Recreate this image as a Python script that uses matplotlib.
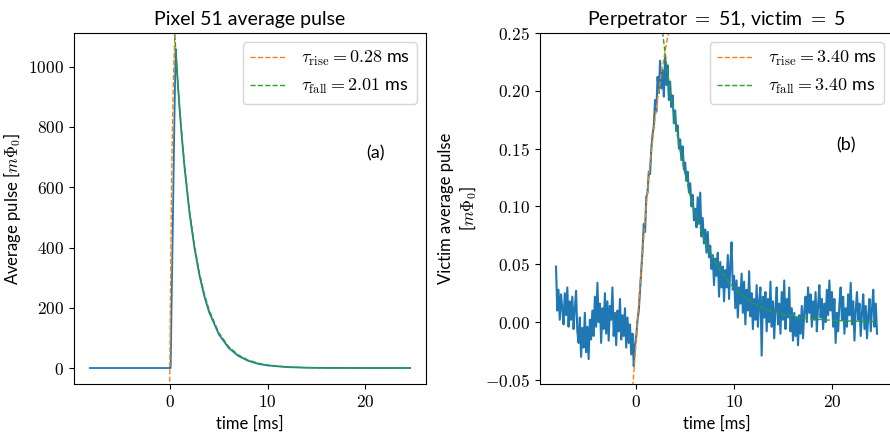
import numpy as np
import matplotlib
matplotlib.use("Agg")
import matplotlib.pyplot as plt
from matplotlib.ticker import FuncFormatter, MultipleLocator

plt.rcParams["mathtext.fontset"] = "cm"
plt.rcParams["font.family"] = ["Lato", "DejaVu Sans"]

# ---- panel (a): pixel 51 average pulse ----
pulse_t = [-8.192, 0.0, 0.07, 0.15, 0.3, 0.45, 0.58, 0.65, 0.8, 1.0, 1.25, 1.5,
           2.0, 2.5, 3.0, 3.5, 4.0, 5.0, 6.0, 7.0, 8.0, 9.0, 10.0, 12.0, 14.0,
           16.0, 20.0, 24.576]
pulse_v = [0, 0, 0, 180, 500, 820, 1059, 1025, 945, 852, 752, 662, 514, 400,
           310, 240, 186, 112, 67, 40, 24, 14, 8.5, 3, 1, 0.3, 0, 0]

rise_a_t = [-0.03, 0.05, 0.1, 0.2, 0.3, 0.4, 0.5, 0.56]
rise_a_v = [-70, 253, 427, 695, 882, 1014, 1105, 1150]
fall_a_t = [0.45, 0.58, 0.8, 1.0, 1.25, 1.5, 2.0, 2.5, 3.0, 3.5, 4.0, 5.0, 6.0,
            7.0, 8.0, 9.0, 10.0, 12.0, 14.0, 16.0, 20.0, 24.576]
fall_a_v = [1130, 1059, 949, 859, 759, 670, 522, 408, 318, 248, 193, 117, 71,
            43.4, 26.4, 16.1, 9.8, 3.6, 1.3, 0.5, 0.07, 0.01]
tau_a = (0.28, 2.01)

# ---- panel (b): perpetrator 51, victim 5 ----
victim_t0 = -8.192
victim_dt = 0.128
victim_v = [
    0.048, 0.010, 0.028, 0.002, 0.024, 0.012, -0.002, 0.025, 0.006, 0.030,
    -0.004, 0.018, 0.002, 0.022, -0.006, 0.012, 0.027, -0.008, -0.018, 0.004,
    -0.030, -0.005, -0.022, 0.008, -0.026, -0.004, -0.032, 0.002, -0.015, 0.010,
    -0.012, 0.022, -0.004, 0.034, 0.000, 0.016, -0.018, 0.012, -0.006, 0.025,
    -0.010, 0.018, -0.016, 0.014, 0.002, 0.030, -0.012, 0.008, -0.020, 0.010,
    -0.008, 0.020, -0.015, 0.006, -0.012, 0.012, -0.022, 0.004, -0.018, -0.002,
    -0.028, -0.010, -0.038, -0.020,
    -0.012, 0.002, 0.010, 0.028, 0.045, 0.062, 0.085, 0.078, 0.108, 0.112,
    0.130, 0.128, 0.150, 0.162, 0.170, 0.192, 0.182, 0.212, 0.198, 0.226,
    0.202, 0.218, 0.195, 0.230,
    0.205, 0.222, 0.192, 0.208, 0.186, 0.196, 0.172, 0.183, 0.165, 0.170,
    0.150, 0.158, 0.140, 0.152, 0.132, 0.138, 0.122, 0.130, 0.112, 0.120,
    0.100, 0.110, 0.088, 0.098, 0.082, 0.108, 0.085, 0.112, 0.074, 0.090,
    0.068, 0.080, 0.060, 0.078, 0.056, 0.066, 0.046, 0.058, 0.032, 0.055,
    0.040, 0.060, 0.022, 0.052, 0.030, 0.048, 0.018, 0.045, 0.030, 0.058,
    0.020, 0.050, 0.069, 0.028, 0.040, 0.012, 0.036, 0.004, 0.030, 0.016,
    0.042, 0.008, 0.035, -0.002, 0.028, 0.010, 0.044, 0.005, 0.025, -0.006,
    0.020, 0.002, 0.032, -0.004, 0.018, 0.030, -0.029, 0.022, 0.004, 0.026,
    -0.008, 0.020, 0.000, 0.035, -0.004, 0.018, -0.014, 0.012, 0.030, -0.002,
    0.016, -0.010, 0.026, 0.002, 0.036, -0.006, 0.020, 0.004, 0.030, -0.008,
    0.012, -0.016, 0.008, -0.012, 0.004, -0.020, 0.006, -0.010, 0.014, -0.014,
    0.010, 0.022, 0.000, 0.030, 0.008, 0.024, -0.004, 0.018, 0.002, 0.026,
    -0.008, 0.014, 0.032, 0.004, 0.020, -0.006, 0.016, 0.000, 0.028, 0.006,
    0.036, 0.010, 0.026, -0.004, 0.020, -0.018, 0.008, -0.008, 0.016, 0.030,
    0.002, 0.022, -0.010, 0.012, -0.004, 0.024, 0.006, 0.034, -0.002, 0.018,
    -0.016, 0.010, 0.026, 0.002, 0.016, -0.012, 0.008, 0.024, -0.006, 0.014,
    -0.014, 0.006, 0.020, -0.008, 0.012, 0.028, -0.004, 0.016, -0.010,
]
victim_t = victim_t0 + victim_dt * np.arange(len(victim_v))

rise_b_t = [-0.36, 0.0, 0.5, 1.0, 1.5, 2.0, 2.5, 3.0, 3.5]
rise_b_v = [-0.056, -0.015, 0.045, 0.100, 0.145, 0.182, 0.212, 0.237, 0.260]
fall_b_t = [2.6, 2.8, 3.0, 3.25, 3.5, 4.0, 4.5, 5.0, 5.5, 6.0, 7.0, 8.0, 9.0,
            10.0, 11.0, 12.0, 13.0, 14.0, 15.0, 16.0, 18.0, 20.0, 22.0, 24.576]
fall_b_v = [0.2574, 0.2428, 0.2289, 0.2127, 0.1976, 0.1706, 0.1472, 0.1271,
            0.1097, 0.0947, 0.0706, 0.0526, 0.0392, 0.0292, 0.0218, 0.0162,
            0.0121, 0.0090, 0.0067, 0.0050, 0.0028, 0.0015, 0.0009, 0.0004]
tau_b = (3.40, 3.40)


def math_ticks(fmt):
    return FuncFormatter(lambda v, pos: "$" + format(v, fmt) + "$")


fig = plt.figure(figsize=(8.9, 4.33), dpi=100)
ax1 = fig.add_axes([0.0831, 0.1132, 0.3955, 0.8106])
ax2 = fig.add_axes([0.6067, 0.1132, 0.3966, 0.8106])

# (a)
ax1.plot(pulse_t, pulse_v, color="C0", lw=1.3)
ax1.plot(rise_a_t, rise_a_v, "--", color="C1", lw=1,
         label=r"$\tau_\mathrm{rise} = %.2f$ ms" % tau_a[0])
ax1.plot(fall_a_t, fall_a_v, "--", color="C2", lw=1,
         label=r"$\tau_\mathrm{fall} = %.2f$ ms" % tau_a[1])
ax1.set_xlim(-9.83, 26.2)
ax1.set_ylim(-53, 1112)
ax1.yaxis.set_major_locator(MultipleLocator(200))
ax1.xaxis.set_major_locator(MultipleLocator(10))
ax1.xaxis.set_major_formatter(math_ticks("g"))
ax1.yaxis.set_major_formatter(math_ticks("g"))
ax1.set_title("Pixel 51 average pulse", fontsize=14)
ax1.set_xlabel("time [ms]", fontsize=12)
ax1.set_ylabel(r"Average pulse [$m\Phi_0$]", fontsize=12)
ax1.legend(loc="upper right", fontsize=13)
ax1.text(0.858, 0.658, "(a)", transform=ax1.transAxes, fontsize=13,
         ha="center", va="center")

# (b)
ax2.plot(victim_t, victim_v, color="C0", lw=1.5)
ax2.plot(rise_b_t, rise_b_v, "--", color="C1", lw=1,
         label=r"$\tau_\mathrm{rise} = %.2f$ ms" % tau_b[0])
ax2.plot(fall_b_t, fall_b_v, "--", color="C2", lw=1,
         label=r"$\tau_\mathrm{fall} = %.2f$ ms" % tau_b[1])
ax2.set_xlim(-9.83, 26.2)
ax2.set_ylim(-0.0535, 0.25)
ax2.yaxis.set_major_locator(MultipleLocator(0.05))
ax2.xaxis.set_major_locator(MultipleLocator(10))
ax2.xaxis.set_major_formatter(math_ticks("g"))
ax2.yaxis.set_major_formatter(math_ticks(".2f"))
ax2.set_title(r"Perpetrator $=$ 51, victim $=$ 5", fontsize=14)
ax2.set_xlabel("time [ms]", fontsize=12)
ax2.set_ylabel("Victim average pulse\n" + r"[$m\Phi_0$]", fontsize=12)
ax2.legend(loc="upper right", fontsize=13)
ax2.text(0.866, 0.68, "(b)", transform=ax2.transAxes, fontsize=13,
         ha="center", va="center")

for ax in (ax1, ax2):
    ax.tick_params(labelsize=12.5)

fig.savefig("out.png", dpi=100)
